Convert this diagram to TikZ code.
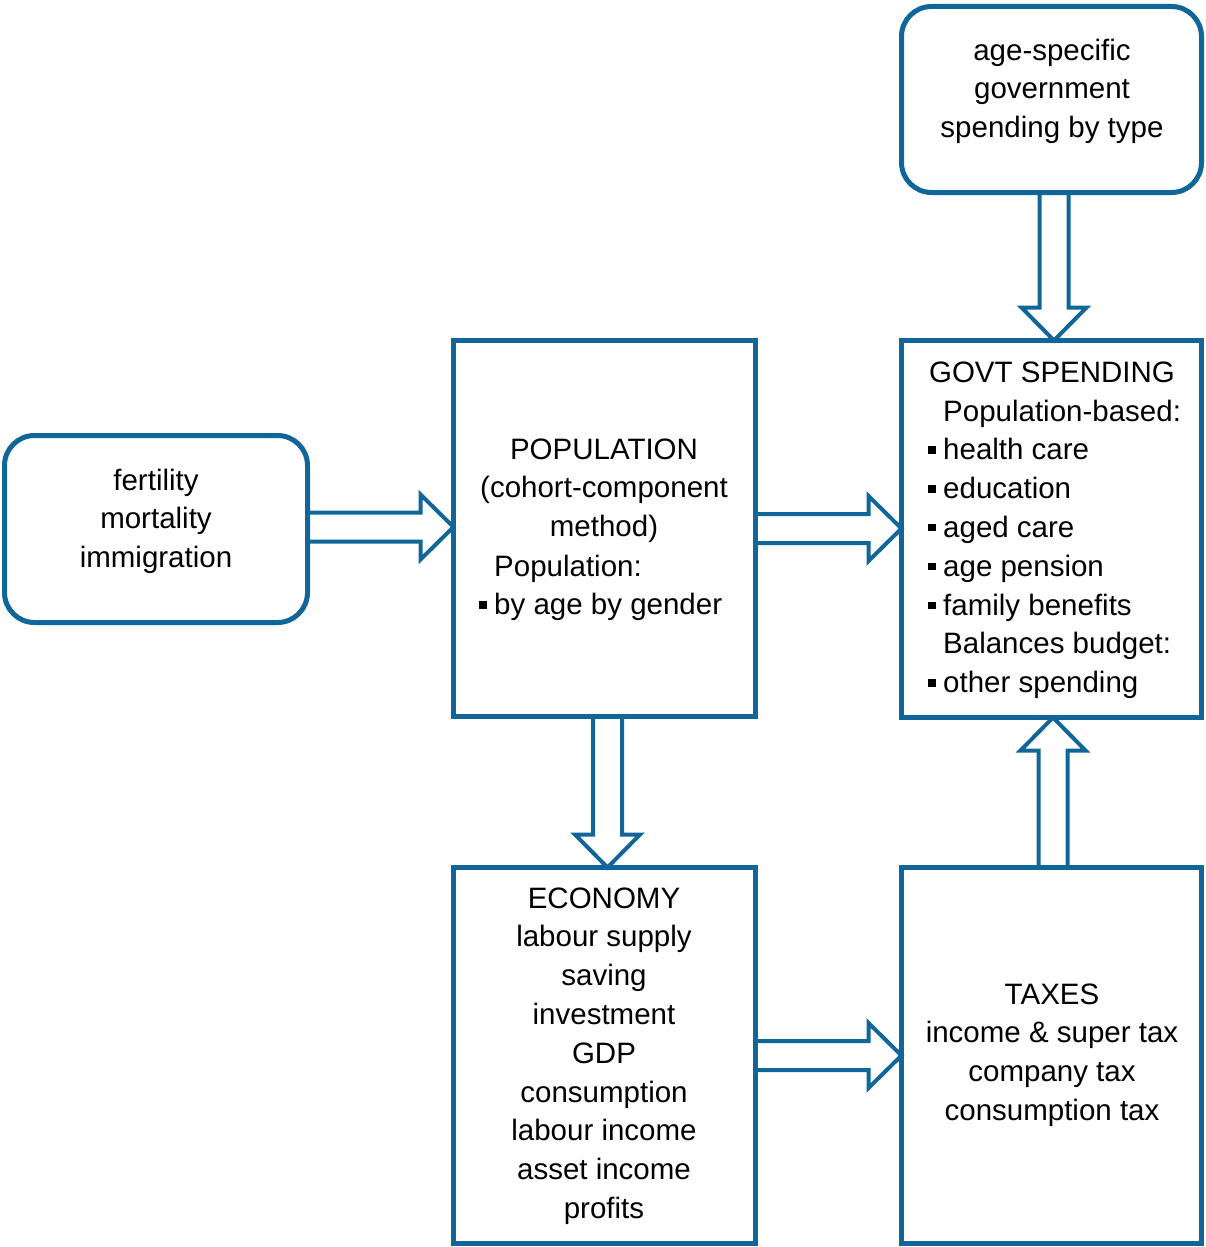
\documentclass[tikz,border=0pt]{standalone}
\usepackage{fontspec}
\setmainfont{Liberation Sans}
\usetikzlibrary{calc,backgrounds}
\definecolor{flowblue}{RGB}{16,102,152}

% square bullet hanging to the left of a list line
\newcommand\sqbullet{\llap{\raisebox{6pt}{\rule{7.5pt}{7.5pt}}\hspace{7.5pt}}}

% hollow block arrows between two boxes (third argument: sideways shift of the shaft)
\newcommand\arrowright[3]{%
  \draw[blockarrow] let \p1=(#1.east), \p2=(#2.west) in
    (\x1,\y1+14.5+#3) -- (\x2-33,\y1+14.5+#3) -- (\x2-33,\y1+32.5+#3) -- (\x2,\y1+#3)
    -- (\x2-33,\y1-32.5+#3) -- (\x2-33,\y1-14.5+#3) -- (\x1,\y1-14.5+#3) -- cycle;}
\newcommand\arrowdown[3]{%
  \draw[blockarrow] let \p1=(#1.south), \p2=(#2.north) in
    (\x2-14.5+#3,\y1) -- (\x2-14.5+#3,\y2+33) -- (\x2-32.5+#3,\y2+33) -- (\x2+#3,\y2)
    -- (\x2+32.5+#3,\y2+33) -- (\x2+14.5+#3,\y2+33) -- (\x2+14.5+#3,\y1) -- cycle;}
\newcommand\arrowup[3]{%
  \draw[blockarrow] let \p1=(#1.north), \p2=(#2.south) in
    (\x1-14.5+#3,\y1) -- (\x1-14.5+#3,\y2-33) -- (\x1-32.5+#3,\y2-33) -- (\x1+#3,\y2)
    -- (\x1+32.5+#3,\y2-33) -- (\x1+14.5+#3,\y2-33) -- (\x1+14.5+#3,\y1) -- cycle;}

\begin{document}
\begin{tikzpicture}[x=1pt,y=1pt,
  box/.style={draw=flowblue,line width=5pt,inner sep=0pt,outer sep=0pt},
  roundbox/.style={box,rounded corners=30pt},
  blockarrow/.style={draw=flowblue,line width=4pt,fill=white,line join=miter},
  txt/.style={font=\fontsize{29.5}{38.8}\selectfont,inner sep=0pt,anchor=base,align=center},
  listtxt/.style={txt,anchor=base west,align=left}]

\useasboundingbox (0,0) rectangle (1205,-1247);

% boxes
\node[roundbox,minimum width=303,minimum height=187] (fert) at (156,-529) {};
\node[roundbox,minimum width=300,minimum height=186] (agespec) at (1051.5,-99.5) {};
\node[box,minimum width=302,minimum height=376] (pop) at (604.5,-528.5) {};
\node[box,minimum width=300,minimum height=377] (govt) at (1051.5,-529) {};
\node[box,minimum width=302,minimum height=376] (econ) at (604.5,-1055.5) {};
\node[box,minimum width=300,minimum height=376] (taxes) at (1051.5,-1055.5) {};

% box texts (each placed by the baseline of its last line)
\node[txt] (fertT) at (156,-567.6) {fertility\\mortality\\immigration};
\node[txt] (ageT) at (1052,-137.6) {age-specific\\government\\spending by type};
\node[txt] (popT) at (604,-536.6) {POPULATION\\(cohort-component\\method)};
\node[listtxt] (popL) at (494,-614.8) {Population:\\\sqbullet by age by gender};
\node[txt] (govtT) at (1052,-382) {GOVT SPENDING};
\node[listtxt] (govtL) at (943,-692.6) {Population-based:\\\sqbullet health care\\\sqbullet education\\\sqbullet aged care\\\sqbullet age pension\\\sqbullet family benefits\\Balances budget:\\\sqbullet other spending};
\node[txt] (econT) at (604,-1218.4) {ECONOMY\\labour supply\\saving\\investment\\GDP\\consumption\\labour income\\asset income\\profits};
\node[txt] (taxT) at (1052,-1120.4) {TAXES\\income \& super tax\\company tax\\consumption tax};

% connecting block arrows, beneath the box outlines
\begin{pgfonlayer}{background}
  \arrowright{fert}{pop}{2}
  \arrowright{pop}{govt}{0}
  \arrowright{econ}{taxes}{0}
  \arrowdown{agespec}{govt}{2.5}
  \arrowdown{pop}{econ}{3}
  \arrowup{taxes}{govt}{1.5}
\end{pgfonlayer}
\end{tikzpicture}
\end{document}
